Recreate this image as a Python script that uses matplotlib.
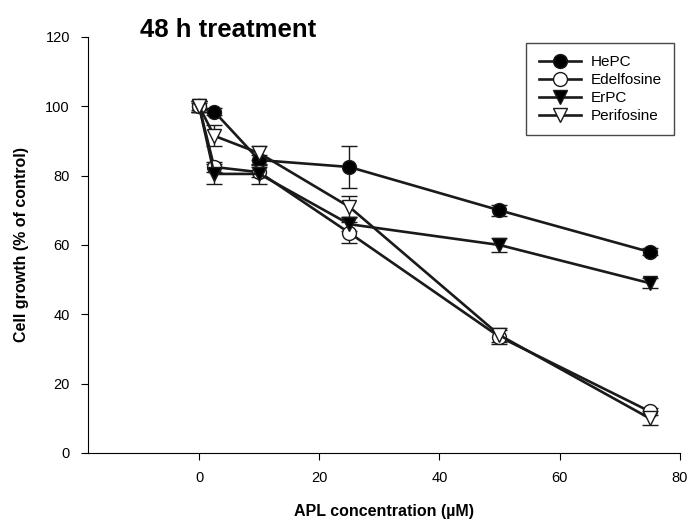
import matplotlib
matplotlib.use("Agg")
import matplotlib.pyplot as plt
from matplotlib.lines import Line2D

plt.rcParams['font.family'] = ['Liberation Sans', 'DejaVu Sans']

conc = [0, 2.5, 10, 25, 50, 75]

hepc = [100, 98.5, 84.5, 82.5, 70, 58]
hepc_err = [1, 1, 1.5, 6, 1.5, 1]
edelfosine = [100, 82.5, 81, 63.5, 33.5, 12]
edelfosine_err = [1.5, 1.5, 1.5, 3, 2, 1]
erpc = [100, 80.5, 80.5, 66, 60, 49]
erpc_err = [1.5, 3, 3, 2, 2, 1.5]
perifosine = [100, 91.5, 86.5, 71, 34, 10]
perifosine_err = [1.5, 3, 2, 3, 2, 2]

series = [
    ("HePC", hepc, hepc_err, 'o', 'black'),
    ("Edelfosine", edelfosine, edelfosine_err, 'o', 'white'),
    ("ErPC", erpc, erpc_err, 'v', 'black'),
    ("Perifosine", perifosine, perifosine_err, 'v', 'white'),
]

ink = '#1a1a1a'
fig = plt.figure(figsize=(6.95, 5.26), dpi=100)
ax = fig.add_axes([0.1266, 0.1388, 0.8514, 0.7909])

handles = []
for name, vals, errs, mk, fc in series:
    ax.errorbar(conc, vals, yerr=errs, color=ink, lw=1.9, marker=mk,
                markersize=10, markerfacecolor=fc, markeredgecolor=ink,
                markeredgewidth=1.0, ecolor=ink, elinewidth=1.0,
                capsize=6, capthick=1.0)
    # legend entries without the error bars
    handles.append(Line2D([], [], color=ink, lw=1.9, marker=mk,
                          markersize=10, markerfacecolor=fc,
                          markeredgecolor=ink, markeredgewidth=1.0,
                          label=name))

ax.set_xlim(-18.5, 80)
ax.set_ylim(0, 120)
ax.set_xticks([0, 20, 40, 60, 80])
ax.set_yticks([0, 20, 40, 60, 80, 100, 120])
ax.spines['top'].set_visible(False)
ax.spines['right'].set_visible(False)
ax.tick_params(direction='out', length=5, labelsize=10.5, pad=8)

ax.set_xlabel("APL concentration (\u00b5M)", fontsize=11.5,
              fontweight='bold', labelpad=14)
ax.set_ylabel("Cell growth (% of control)", fontsize=11.5,
              fontweight='bold', labelpad=12)

fig.text(0.328, 0.943, "48 h treatment", fontsize=18.5, fontweight='bold',
         ha='center', va='center')

leg = ax.legend(handles=handles, loc='upper right',
                bbox_to_anchor=(0.99, 0.985), fancybox=False,
                edgecolor=ink, fontsize=11, handlelength=2.8,
                borderpad=0.8, labelspacing=0.25, handletextpad=0.6,
                borderaxespad=0)
leg.get_frame().set_linewidth(1.0)

fig.savefig("out.png", dpi=100)
